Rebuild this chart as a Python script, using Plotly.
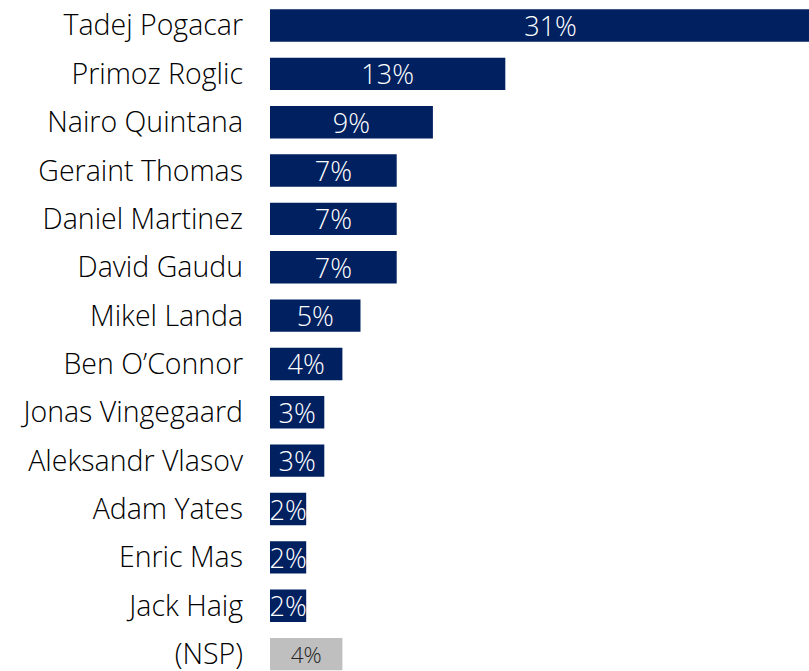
import plotly.graph_objects as go

riders = ["Tadej Pogacar", "Primoz Roglic", "Nairo Quintana", "Geraint Thomas",
          "Daniel Martinez", "David Gaudu", "Mikel Landa", "Ben O\u2019Connor",
          "Jonas Vingegaard", "Aleksandr Vlasov", "Adam Yates", "Enric Mas",
          "Jack Haig", "(NSP)"]
shares = [31, 13, 9, 7, 7, 7, 5, 4, 3, 3, 2, 2, 2, 4]
labels = [f"{v}%" for v in shares]

NAVY = "#002060"
GRAY = "#BFBFBF"
colors = [GRAY if r == "(NSP)" else NAVY for r in riders]
text_colors = ["#262626" if r == "(NSP)" else "white" for r in riders]
text_sizes = [22.5 if r == "(NSP)" else 27 for r in riders]

fig = go.Figure(go.Bar(
    x=shares, y=riders, orientation="h",
    marker=dict(color=colors, line=dict(width=0)),
    text=labels, textposition="inside", insidetextanchor="middle",
    constraintext="none",
    textfont=dict(color=text_colors, size=text_sizes, family="Open Sans", weight=300),
    hoverinfo="skip",
))

fig.update_layout(
    width=809, height=671,
    margin=dict(l=270, r=0, t=0, b=0),
    paper_bgcolor="white", plot_bgcolor="white",
    bargap=0.33,
    showlegend=False,
    font=dict(family="Open Sans", size=28.5, color="#000000", weight=300),
    xaxis=dict(range=[0, 539 / 18.1], visible=False, fixedrange=True),
    yaxis=dict(type="category", categoryorder="array", categoryarray=riders,
               range=[13.35, -0.527], showgrid=False, showline=False,
               ticks="", ticklabelstandoff=26, fixedrange=True,
               tickfont=dict(family="Open Sans", size=28.5, color="#000000", weight=300)),
)

fig.write_html(
    "out.html",
    config={"displayModeBar": False, "staticPlot": True},
    post_script="document.body.style.margin='0';document.documentElement.style.overflow='hidden';",
)
